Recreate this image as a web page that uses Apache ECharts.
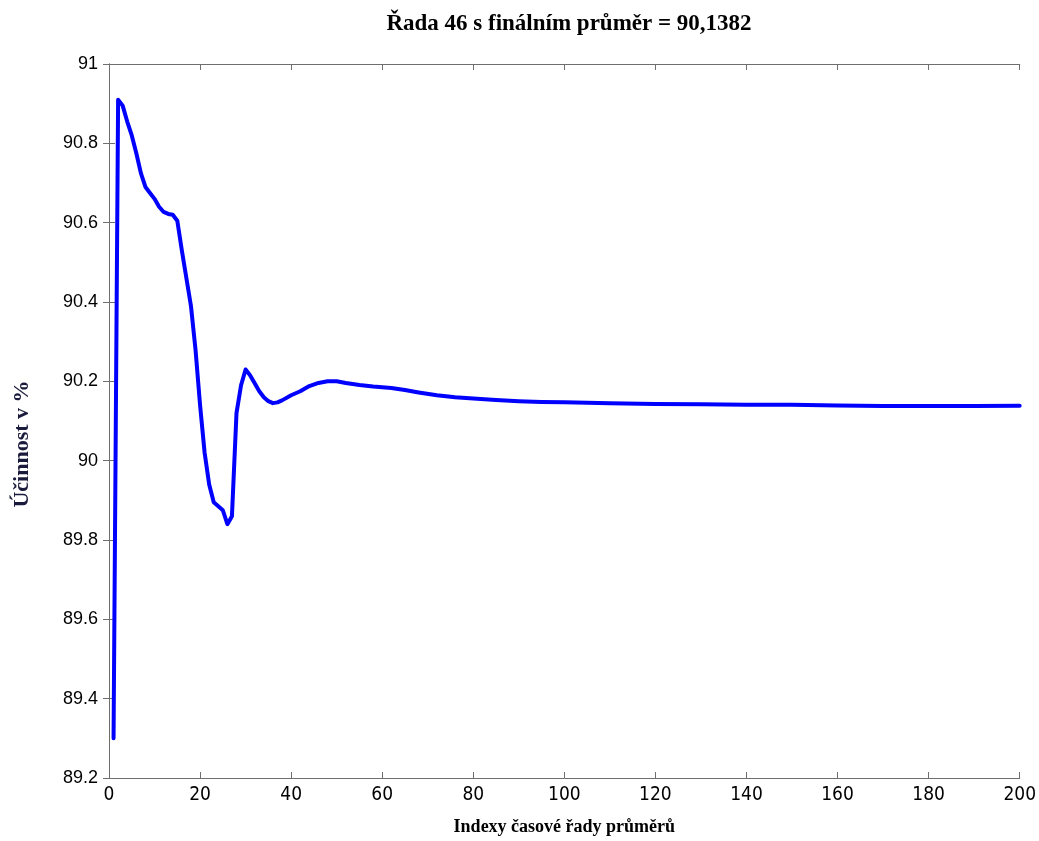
<!DOCTYPE html>
<html>
<head>
<meta charset="utf-8">
<title>Řada 46</title>
<script src="https://cdn.jsdelivr.net/npm/echarts@6/dist/echarts.min.js"></script>
<style>
  html, body { margin: 0; padding: 0; background: #ffffff; }
  #chart { width: 1039px; height: 841px; }
</style>
</head>
<body>
<div id="chart"></div>
<script>
// Running mean of series 46, by index of the averaging time series
const indexes = [
  1, 2, 3, 4, 5, 6, 7, 8, 9, 10,
  11, 12, 13, 14, 15, 16, 17, 18, 19, 20,
  21, 22, 23, 24, 25, 26, 27, 28, 29, 30,
  31, 32, 33, 34, 35, 36, 37, 38, 40, 42,
  44, 46, 48, 50, 52, 55, 58, 62, 65, 68,
  72, 76, 80, 85, 90, 95, 100, 110, 120, 130,
  140, 150, 160, 170, 180, 190, 200
];
const efficiency = [
  89.30, 90.91, 90.895, 90.855, 90.82, 90.775, 90.725, 90.69, 90.675, 90.66,
  90.64, 90.627, 90.622, 90.62, 90.605, 90.53, 90.46, 90.39, 90.28, 90.14,
  90.02, 89.94, 89.895, 89.885, 89.875, 89.84, 89.86, 90.12, 90.19, 90.23,
  90.215, 90.195, 90.175, 90.16, 90.15, 90.145, 90.147, 90.152, 90.165, 90.175,
  90.188, 90.196, 90.20, 90.20, 90.196, 90.191, 90.187, 90.183, 90.178, 90.172,
  90.165, 90.16, 90.157, 90.153, 90.15, 90.148, 90.147, 90.145, 90.143, 90.142,
  90.141, 90.141, 90.139, 90.138, 90.138, 90.138, 90.1382
];
const xTicks = { min: 0, max: 200, step: 20 };
const yTicks = { min: 89.2, max: 91, step: 0.2 };

const titleText = 'Řada 46 s finálním průměr = 90,1382';
const xName = 'Indexy časové řady průměrů';
const yName = 'Účinnost v %';

const points = indexes.map((x, i) => [x, efficiency[i]]);

const axisLineStyle = { color: '#6e6e6e', width: 1 };
const serif = '"Liberation Serif", "Times New Roman", serif';

const chart = echarts.init(document.getElementById('chart'), null, { renderer: 'canvas' });

chart.setOption({
  backgroundColor: '#ffffff',
  animation: false,
  title: {
    text: titleText,
    left: 564,
    top: 8,
    textAlign: 'center',
    textStyle: {
      fontFamily: serif,
      fontWeight: 'bold',
      fontSize: 23,
      color: '#000000'
    }
  },
  grid: { left: 109, right: 19, top: 64, bottom: 52, containLabel: false },
  xAxis: [
    {
      type: 'value',
      position: 'bottom',
      min: xTicks.min, max: xTicks.max, interval: xTicks.step,
      name: xName,
      nameLocation: 'middle',
      nameGap: 40,
      nameTextStyle: { fontFamily: serif, fontWeight: 'bold', fontSize: 18, color: '#000000' },
      axisLine: { show: true, lineStyle: axisLineStyle },
      axisTick: { show: true, inside: true, length: 6, lineStyle: axisLineStyle },
      axisLabel: {
        margin: 8,
        fontFamily: '"DejaVu Sans Condensed", "Liberation Sans", Arial, sans-serif',
        fontSize: 19,
        color: '#000000'
      },
      splitLine: { show: false }
    },
    {
      type: 'value',
      position: 'top',
      min: xTicks.min, max: xTicks.max, interval: xTicks.step,
      axisLine: { show: true, lineStyle: axisLineStyle },
      axisTick: { show: true, inside: true, length: 6, lineStyle: axisLineStyle },
      axisLabel: { show: false },
      splitLine: { show: false }
    }
  ],
  yAxis: [
    {
      type: 'value',
      position: 'left',
      min: yTicks.min, max: yTicks.max, interval: yTicks.step,
      axisLine: { show: true, lineStyle: axisLineStyle },
      axisTick: { show: true, inside: true, length: 6, lineStyle: axisLineStyle },
      axisLabel: {
        margin: 11,
        fontFamily: '"Liberation Sans", Arial, sans-serif',
        fontSize: 18,
        color: '#000000'
      },
      splitLine: { show: false }
    },
    {
      type: 'value',
      position: 'right',
      min: yTicks.min, max: yTicks.max, interval: yTicks.step,
      axisLine: { show: true, lineStyle: axisLineStyle },
      axisTick: { show: true, inside: true, length: 6, lineStyle: axisLineStyle },
      axisLabel: { show: false },
      splitLine: { show: false }
    }
  ],
  graphic: [
    {
      type: 'text',
      x: 22,
      y: 444,
      rotation: Math.PI / 2,
      style: {
        text: yName,
        fontFamily: serif,
        fontWeight: 'bold',
        fontSize: 22,
        fill: '#1a1a3c',
        align: 'center',
        verticalAlign: 'middle'
      }
    }
  ],
  series: [
    {
      type: 'line',
      xAxisIndex: 0,
      yAxisIndex: 0,
      data: points,
      showSymbol: false,
      smooth: false,
      lineStyle: { color: '#0000ff', width: 4, join: 'round', cap: 'round' },
      itemStyle: { color: '#0000ff' }
    }
  ]
});
</script>
</body>
</html>
